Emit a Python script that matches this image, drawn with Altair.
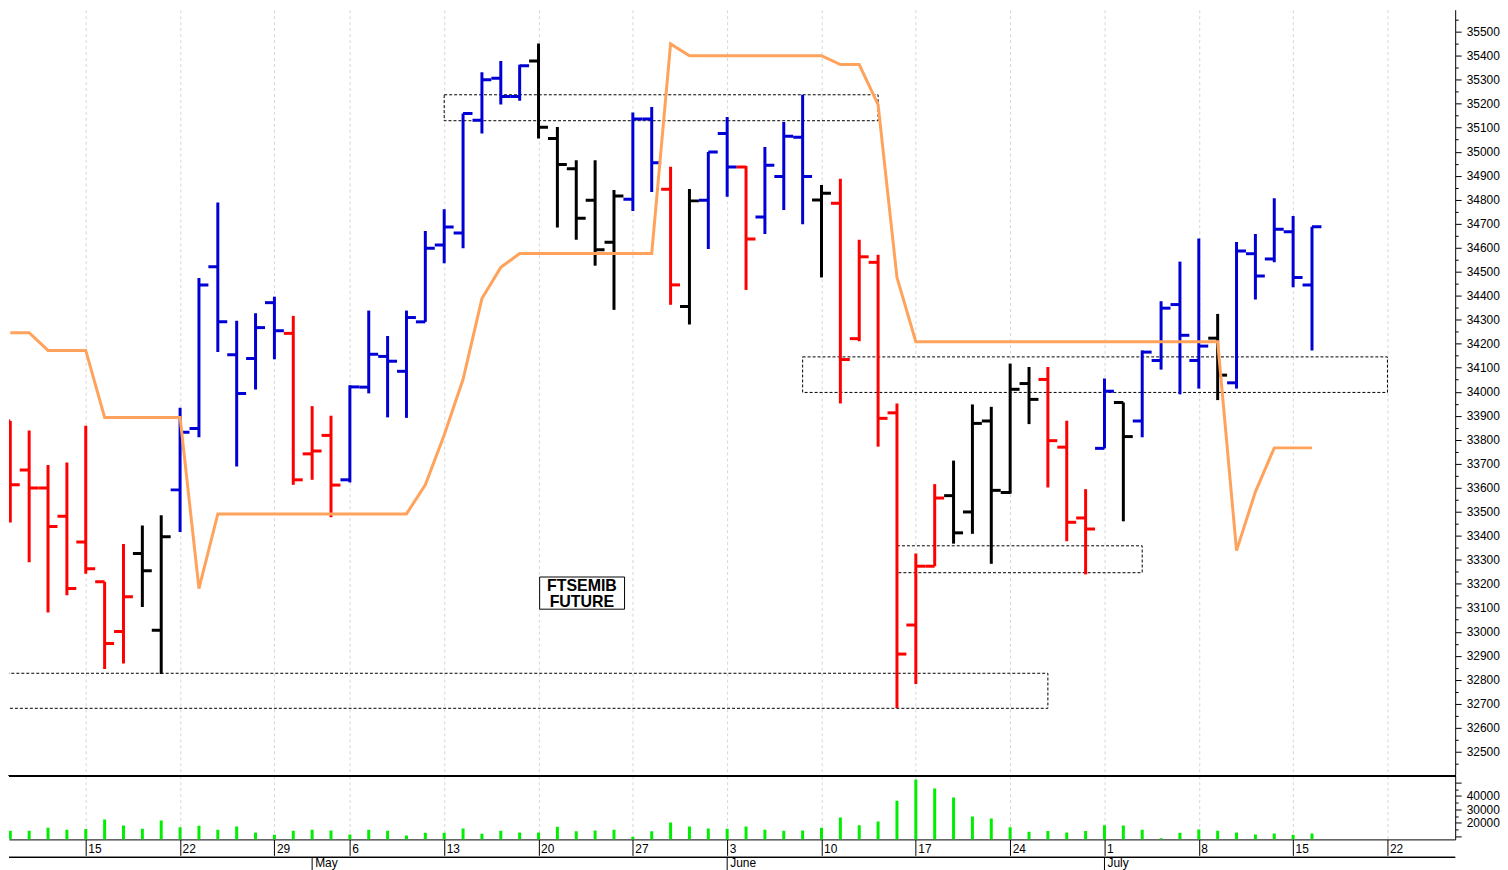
import altair as alt
import pandas as pd

# ---------------- data ----------------
dates = [
    "2024-04-09", "2024-04-10", "2024-04-11", "2024-04-12",
    "2024-04-15", "2024-04-16", "2024-04-17", "2024-04-18", "2024-04-19",
    "2024-04-22", "2024-04-23", "2024-04-24", "2024-04-25", "2024-04-26",
    "2024-04-29", "2024-04-30", "2024-05-02", "2024-05-03",
    "2024-05-06", "2024-05-07", "2024-05-08", "2024-05-09", "2024-05-10",
    "2024-05-13", "2024-05-14", "2024-05-15", "2024-05-16", "2024-05-17",
    "2024-05-20", "2024-05-21", "2024-05-22", "2024-05-23", "2024-05-24",
    "2024-05-27", "2024-05-28", "2024-05-29", "2024-05-30", "2024-05-31",
    "2024-06-03", "2024-06-04", "2024-06-05", "2024-06-06", "2024-06-07",
    "2024-06-10", "2024-06-11", "2024-06-12", "2024-06-13", "2024-06-14",
    "2024-06-17", "2024-06-18", "2024-06-19", "2024-06-20", "2024-06-21",
    "2024-06-24", "2024-06-25", "2024-06-26", "2024-06-27", "2024-06-28",
    "2024-07-01", "2024-07-02", "2024-07-03", "2024-07-04", "2024-07-05",
    "2024-07-08", "2024-07-09", "2024-07-10", "2024-07-11", "2024-07-12",
    "2024-07-15", "2024-07-16",
]
opens = [33878, 33674, 33599, 33481, 33374, 33208, 33001, 33326, 33006, 33591,
         33847, 34521, 34154, 34138, 34371, 34243, 33741, 33818, 33633, 34019,
         34147, 34085, 34291, 34611, 34661, 35131, 35306, 35230, 35378, 35055,
         34929, 34798, 34623, 34802, 35136, 34843, 34355, 34798, 35076, 34936,
         34728, 34897, 35060, 34799, 34785, 34221, 34539, 33912, 33028, 33273,
         33567, 33499, 33878, 33580, 34034, 34051, 33769, 33474, 33764, 33955,
         33878, 34130, 34363, 34130, 34223, 34037, 34575, 34553, 34666, 34445]
highs = [33878, 33838, 33695, 33705, 33858, 33208, 33366, 33443, 33485, 33933,
         34474, 34788, 34296, 34327, 34396, 34316, 33940, 33900, 34027, 34338,
         34232, 34338, 34670, 34760, 35159, 35331, 35378, 35362, 35451, 35103,
         34964, 34964, 34840, 35163, 35186, 34937, 34844, 34999, 35144, 34940,
         35019, 35124, 35237, 34861, 34887, 34633, 34571, 33951, 33326, 33615,
         33713, 33947, 33937, 34117, 34103, 34103, 33879, 33594, 34055, 33955,
         34172, 34377, 34542, 34638, 34324, 34624, 34657, 34806, 34732, 34687]
lows = [33455, 33290, 33080, 33152, 33242, 32845, 32868, 33103, 32824, 33416,
        33810, 34165, 33688, 34009, 34135, 33612, 33633, 33477, 33622, 33993,
        33893, 33891, 34291, 34535, 34598, 35076, 35196, 35212, 35055, 34684,
        34633, 34525, 34341, 34753, 34832, 34362, 34280, 34594, 34812, 34424,
        34657, 34757, 34698, 34476, 33951, 34210, 33771, 32682, 32782, 33273,
        33367, 33408, 33283, 33575, 33865, 33601, 33377, 33239, 33764, 33460,
        33810, 34092, 33989, 34013, 33965, 34013, 34384, 34539, 34435, 34172]
closes = [33612, 33599, 33438, 33180, 33262, 32951, 33146, 33254, 33396, 33831,
          34445, 34291, 33993, 34267, 34254, 33633, 33753, 33611, 34020, 34156,
          34127, 34309, 34598, 34686, 35159, 35300, 35230, 35358, 35102, 34947,
          34723, 34591, 34815, 35136, 34954, 34445, 34795, 34999, 34936, 34636,
          34943, 35064, 34897, 34827, 34134, 34562, 33889, 32907, 33273, 33557,
          33412, 33868, 33589, 34010, 33968, 33796, 33456, 33428, 34002, 33813,
          34165, 34348, 34235, 34190, 34069, 34586, 34482, 34677, 34476, 34687]
trend = (["down"] * 7 + ["flat"] * 2 + ["up"] * 6 + ["down"] * 3 + ["up"] * 10
         + ["flat"] * 5 + ["up"] * 2 + ["down"] + ["flat"] + ["up"] * 2 + ["down"]
         + ["up"] * 3 + ["flat"] + ["down"] * 6 + ["flat"] * 5 + ["down"] * 3
         + ["up"] + ["flat"] + ["up"] * 4 + ["flat"] + ["up"] * 5)
volumes = [14100, 14100, 16300, 14800, 15300, 22500, 18000, 15500, 21700, 16700,
           17800, 14800, 17300, 12800, 11100, 14100, 14800, 14300, 11300, 14800,
           14100, 10600, 12600, 12600, 15800, 11900, 14100, 12800, 12800, 17000,
           13600, 14300, 14800, 9600, 13600, 20200, 17300, 15800, 15500, 17300,
           14800, 14100, 14300, 16300, 23900, 18200, 21000, 36300, 52100, 45400,
           38700, 24700, 23200, 16700, 13300, 13800, 12800, 13800, 18200, 18000,
           14800, 8400, 12600, 15000, 14100, 12800, 11300, 12100, 11100, 12100]
stop_line = [34246, 34246, 34172, 34172, 34172, 33893, 33893, 33893, 33893, 33893,
             33180, 33491, 33491, 33491, 33491, 33491, 33491, 33491, 33491, 33491,
             33491, 33491, 33612, 33820, 34052, 34388, 34518, 34576, 34576, 34576,
             34576, 34576, 34576, 34576, 34576, 35449, 35400, 35400, 35400, 35400,
             35400, 35400, 35400, 35400, 35363, 35363, 35196, 34476, 34208, 34208,
             34208, 34208, 34208, 34208, 34208, 34208, 34208, 34208, 34208, 34208,
             34208, 34208, 34208, 34208, 34208, 33338, 33583, 33766, 33766, 33766]

# dashed support / resistance zones
zone_from = ["2024-05-13", "2024-06-07", "2024-06-14", "2024-04-08"]
zone_to = ["2024-06-13", "2024-07-22", "2024-07-03", "2024-06-26"]
zone_low = [35129, 33997, 33246, 32681]
zone_high = [35237, 34145, 33358, 32827]

# label box
box_lines = ["FTSEMIB", "FUTURE"]
box_text_price = [33189, 33125]
box_t = [29.06, 33.56]
box_price = [33094, 33228]
box_text_t = 31.3

month_names = ["May", "June", "July"]

# ------------- trading calendar (axis positions) -------------
cal = [d for d in pd.bdate_range("2024-04-08", "2024-07-22")
       if d.strftime("%Y-%m-%d") != "2024-05-01"]
pos = {d.strftime("%Y-%m-%d"): k for k, d in enumerate(cal)}

X_DOM = [0.931, 77.59]
mondays = [k for k, d in enumerate(cal) if d.weekday() == 0 and X_DOM[0] <= k <= X_DOM[1]]
day_label = {k: str(cal[k].day) for k in mondays}
label_expr = "{" + ",".join(f"'{k}':'{v}'" for k, v in day_label.items()) + "}[''+datum.value]"

month_t = []
for m in (5, 6, 7):
    month_t.append(min(k for k, d in enumerate(cal) if d.month == m))

bars = pd.DataFrame({"date": dates, "open": opens, "high": highs, "low": lows,
                     "close": closes, "trend": trend, "vol": volumes, "stop": stop_line})
bars["t"] = bars["date"].map(pos)

zones = pd.DataFrame({"t1": [pos[d] for d in zone_from], "t2": [pos[d] for d in zone_to],
                      "p1": zone_low, "p2": zone_high})
box_df = pd.DataFrame({"t1": [box_t[0]], "t2": [box_t[1]], "p1": [box_price[0]], "p2": [box_price[1]]})
box_txt = pd.DataFrame({"t": [box_text_t] * 2, "p": box_text_price, "txt": box_lines})
months = pd.DataFrame({"t": month_t, "name": month_names})

# ---------------- layout constants ----------------
W = 1452
H_PRICE = 768
H_VOL = 64
H_MON = 14
FONT = "Liberation Sans"
GRID = "#d6d6d6"

xs = alt.Scale(domain=X_DOM, nice=False, zero=False)
ys = alt.Scale(domain=[32404.6, 35591.3], nice=False, zero=False)
vs = alt.Scale(domain=[7630, 55035], nice=False, zero=False)

grid_axis = alt.Axis(values=mondays, grid=True, gridDash=[3, 3], gridColor=GRID,
                     labels=False, ticks=False, domain=False, title=None,
                     minExtent=0, maxExtent=0)

price_axis = alt.Axis(orient="right", values=list(range(32450, 35600, 50)), format="d",
                      labelExpr="datum.value % 100 === 0 ? datum.label : ''",
                      tickSize={"condition": {"test": "datum.value % 100 === 0", "value": 6}, "value": 3},
                      tickColor="black", domainColor="black", labelColor="black",
                      labelFont=FONT, labelFontSize=12, labelPadding=5, grid=False,
                      title=None, labelOverlap=False, labelFlush=False)

vol_axis = alt.Axis(orient="right", values=list(range(10000, 50001, 5000)), format="d",
                    labelExpr="(datum.value >= 20000 && datum.value <= 40000 && datum.value % 10000 === 0) ? datum.label : ''",
                    tickSize={"condition": {"test": "datum.value % 10000 === 0", "value": 6}, "value": 3},
                    tickColor="black", domainColor="black", labelColor="black",
                    labelFont=FONT, labelFontSize=12, labelPadding=5, grid=False,
                    title=None, labelOverlap=False, labelFlush=False)

def PX(field):
    return alt.X(field, type="quantitative", scale=xs, axis=grid_axis)

def PY(field):
    return alt.Y(field, type="quantitative", scale=ys, axis=price_axis)

color = alt.Color("trend:N", scale=alt.Scale(domain=["down", "up", "flat"],
                                             range=["#ff0000", "#0000d4", "#000000"]),
                  legend=None)

zone_layer = alt.Chart(zones).mark_rect(
    fillOpacity=0, stroke="black", strokeWidth=1, strokeDash=[3, 2], clip=True
).encode(x=PX("t1"), x2="t2", y=PY("p1"), y2="p2")

hl_layer = alt.Chart(bars).mark_rule(strokeWidth=3, clip=True).encode(
    x=PX("t"), y=PY("low"), y2="high", color=color)

open_layer = alt.Chart(bars).transform_calculate(t0="datum.t - 0.5").mark_rule(
    strokeWidth=3, clip=True).encode(x=PX("t0"), x2="t", y=PY("open"), color=color)

close_layer = alt.Chart(bars).transform_calculate(t1="datum.t + 0.5").mark_rule(
    strokeWidth=3, clip=True).encode(x=PX("t"), x2="t1", y=PY("close"), color=color)

stop_layer = alt.Chart(bars).mark_line(color="#ffa35c", strokeWidth=3, clip=True).encode(
    x=PX("t"), y=PY("stop"))

box_layer = alt.Chart(box_df).mark_rect(fill="white", stroke="black", strokeWidth=1).encode(
    x=PX("t1"), x2="t2", y=PY("p1"), y2="p2")

box_text_layer = alt.Chart(box_txt).mark_text(
    font=FONT, fontSize=16, fontWeight="bold", color="black", align="center", baseline="middle"
).encode(x=PX("t"), y=PY("p"), text="txt:N")

price = alt.layer(zone_layer, hl_layer, open_layer, close_layer, stop_layer,
                  box_layer, box_text_layer).properties(width=W, height=H_PRICE)

# ---------------- volume panel ----------------
vx_axis = alt.Axis(values=mondays, grid=True, gridDash=[3, 3], gridColor=GRID,
                   labelExpr=label_expr, tickSize=16, tickColor="black", domainColor="black",
                   labelAlign="left", labelBaseline="top", labelOffset=2, labelPadding=-12,
                   labelFlush=False, labelOverlap=False, labelBound=False,
                   labelFont=FONT, labelFontSize=12, labelColor="black", title=None,
                   minExtent=16, maxExtent=16)

vol_bars = alt.Chart(bars).mark_rule(color="#00ee00", strokeWidth=3, clip=True).encode(
    x=alt.X("t:Q", scale=xs, axis=vx_axis),
    y=alt.Y("vol:Q", scale=vs, axis=vol_axis),
    y2=alt.datum(7630),
)
vol_top = alt.Chart(bars).mark_rule(color="black", strokeWidth=1).encode(
    x=alt.value(0), x2=alt.value(W), y=alt.value(0))

volume = alt.layer(vol_bars, vol_top).properties(width=W, height=H_VOL)

# ---------------- month row ----------------
mon_line = alt.Chart(months).mark_rule(color="black", strokeWidth=1).encode(
    x=alt.value(0), x2=alt.value(W), y=alt.value(0))
mon_ticks = alt.Chart(months).mark_rule(color="black", strokeWidth=1).encode(
    x=alt.X("t:Q", scale=xs, axis=None), y=alt.value(0), y2=alt.value(H_MON))
mon_text = alt.Chart(months).mark_text(
    font=FONT, fontSize=12, color="black", align="left", baseline="alphabetic", dx=3
).encode(x=alt.X("t:Q", scale=xs, axis=None), y=alt.value(10), text="name:N")

month_row = alt.layer(mon_line, mon_ticks, mon_text).properties(width=W, height=H_MON)

chart = alt.vconcat(price, volume, month_row, spacing=0).resolve_scale(
    x="independent", y="independent", color="independent"
).properties(padding=0, background="white").configure_view(stroke="transparent", strokeWidth=0)

chart.save("out.html", embed_options={"renderer": "svg", "actions": False})
